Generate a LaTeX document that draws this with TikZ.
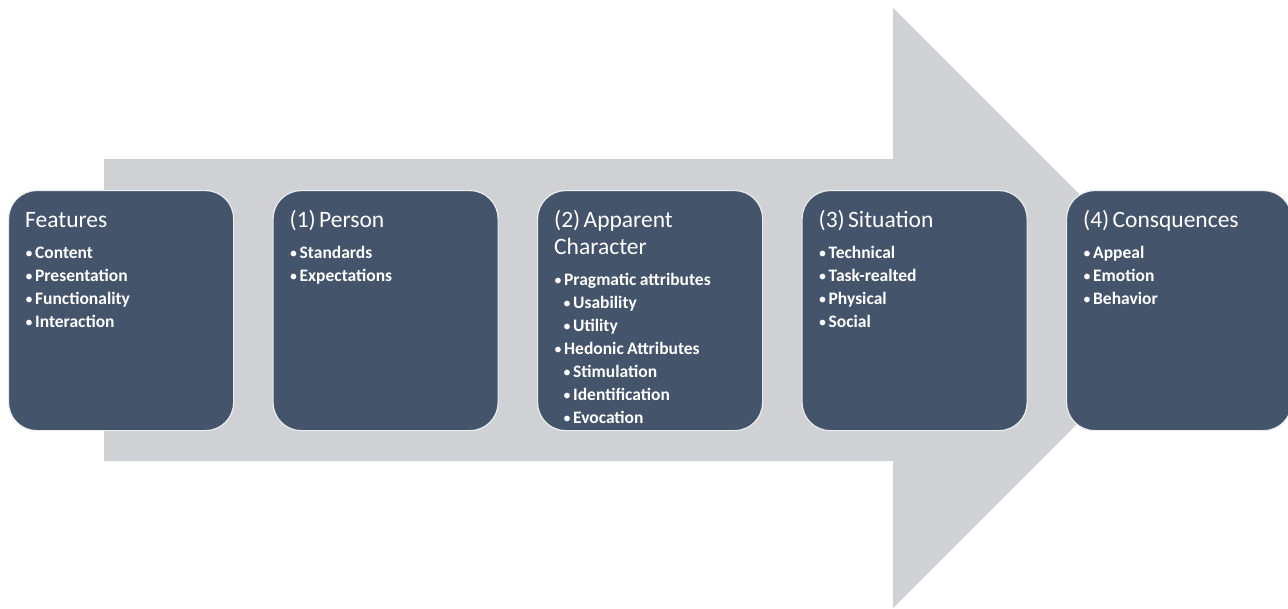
\documentclass[tikz,border=0pt]{standalone}
\usepackage{fontspec}
\setmainfont{Carlito}
\usetikzlibrary{positioning}

\definecolor{slate}{HTML}{44546A}
\definecolor{arrowgray}{RGB}{208,209,213}
\definecolor{rim}{RGB}{236,237,239}
\setlength{\parindent}{0pt}

\newcommand{\dotmark}{{\mdseries\fontsize{16}{23}\selectfont\textbullet}\hspace{2pt}}
\newcommand{\hd}[1]{{\fontsize{23.5}{27}\selectfont\rule{0pt}{18pt}#1\par}\vspace{8pt}}
\newcommand{\itm}[1]{{\fontsize{17.5}{23}\selectfont\bfseries\dotmark#1\par}}
\newcommand{\subitm}[1]{{\fontsize{17.5}{23}\selectfont\bfseries\hspace*{9pt}\dotmark#1\par}}

\begin{document}
\begin{tikzpicture}[
    x=1pt, y=-1pt,
    stage/.style={rectangle, rounded corners=28pt, fill=slate, draw=rim, line width=1.2pt,
        minimum width=225pt, minimum height=240pt, anchor=north west, inner sep=0pt},
    stagetext/.style={anchor=north west, inner sep=0pt, text width=208pt, align=left, text=white}
]
    \useasboundingbox (0,0) rectangle (1288,608);

    \newcommand{\drawstage}[3]{
        \node[stage] (#1) at (#2,190) {};
        \node[stagetext] (#1-text) at ([shift={(17pt,-19pt)}]#1.north west) {#3};
    }

    % Big arrow behind
    \fill[arrowgray] (104,159) -- (893,159) -- (893,8) -- (1193,308)
        -- (893,608) -- (893,461) -- (104,461) -- cycle;

    % --- Stages ---
    \drawstage{features}{8}{\hd{Features}\itm{Content}\itm{Presentation}\itm{Functionality}\itm{Interaction}}
    \drawstage{person}{272.5}{\hd{(1) Person}\itm{Standards}\itm{Expectations}}
    \drawstage{character}{537}{\hd{(2) Apparent\\Character}\itm{Pragmatic attributes}\subitm{Usability}\subitm{Utility}\itm{Hedonic Attributes}\subitm{Stimulation}\subitm{Identification}\subitm{Evocation}}
    \drawstage{situation}{801.5}{\hd{(3) Situation}\itm{Technical}\itm{Task-realted}\itm{Physical}\itm{Social}}
    \drawstage{conseq}{1066}{\hd{(4) Consquences}\itm{Appeal}\itm{Emotion}\itm{Behavior}}
\end{tikzpicture}
\end{document}
